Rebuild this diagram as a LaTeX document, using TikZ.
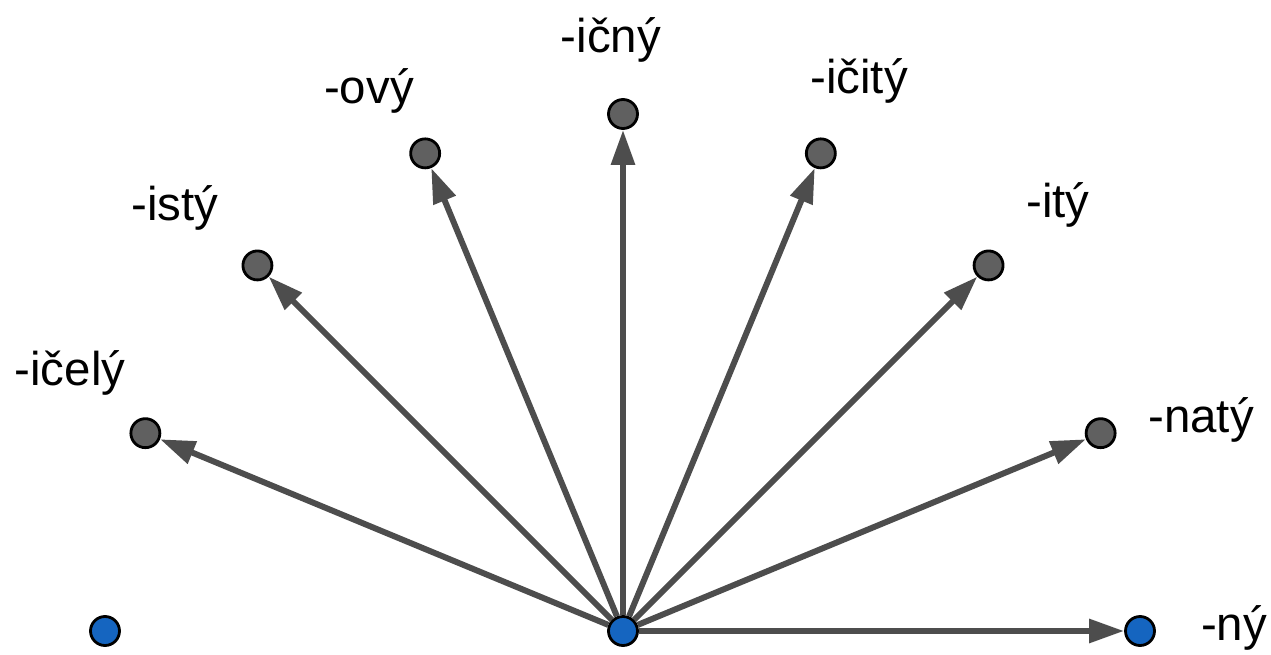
\documentclass[tikz,border=0pt]{standalone}
\usepackage{fontspec}
\setmainfont{Liberation Sans}
\usetikzlibrary{arrows.meta}
\definecolor{rootblue}{HTML}{1565C0}
\definecolor{sufgray}{HTML}{606060}
\definecolor{edgegray}{HTML}{4D4D4D}
\tikzset{
	vertex/.style={circle,draw=black,line width=1.6pt,minimum size=0.58cm,inner sep=0pt},
	rootnode/.style={vertex,fill=rootblue},
	sufnode/.style={vertex,fill=sufgray},
	sufedge/.style={draw=edgegray,line width=3.4pt,-{Triangle[length=0.7cm,width=0.46cm]}},
	suflabel/.style={anchor=base,inner sep=0pt,font=\fontsize{27}{32}\selectfont},
}
\begin{document}
\begin{tikzpicture}[x=0.02cm,y=0.02cm]
	\useasboundingbox (0,0) rectangle (1271,654);
	\node[rootnode] (c) at (623,23) {};
	\path
	(c) ++(180:518) node[rootnode] (left) {}
	(c) ++(0:517) node[rootnode] (ny) {};
	% suffix nodes on the half circle
	\foreach \a/\n in {22.5/naty,45/ity,67.5/icity,90/icny,112.5/ovy,135/isty,157.5/icely}
	\path (c) ++(\a:517) node[sufnode] (\n) {};
	\foreach \n in {ny,naty,ity,icity,icny,ovy,isty,icely}
	\draw[sufedge] (c)--(\n);
	% labels
	\path
	(70,269)   node[suflabel] (l-icely) {-ičelý}
	(175,434)  node[suflabel] (l-isty)  {-istý}
	(369,551)  node[suflabel] (l-ovy)   {-ový}
	(611,602)  node[suflabel] (l-icny)  {-ičný}
	(859,561)  node[suflabel] (l-icity) {-ičitý}
	(1058,437) node[suflabel] (l-ity)   {-itý}
	(1201,222) node[suflabel] (l-naty)  {-natý}
	(1234,14)  node[suflabel] (l-ny)    {-ný};
\end{tikzpicture}
\end{document}
